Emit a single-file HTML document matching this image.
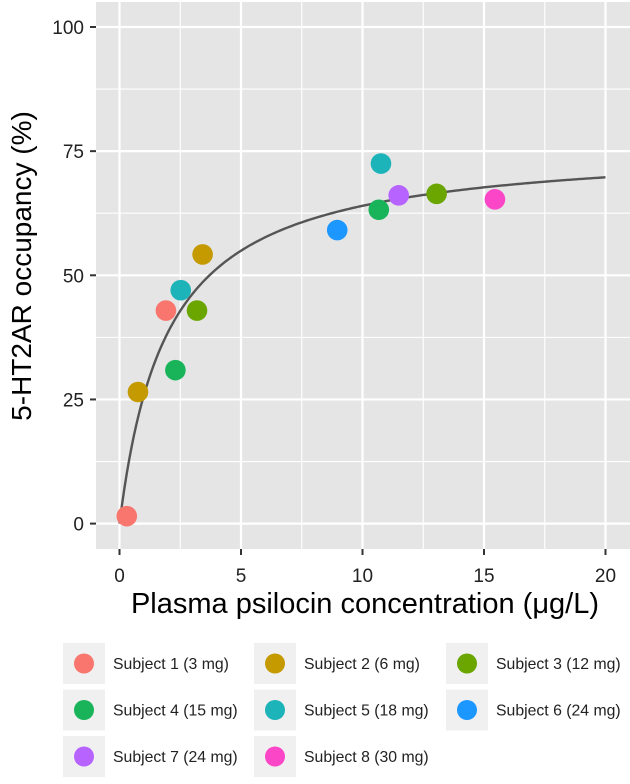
<!DOCTYPE html>
<html><head><meta charset="utf-8"><style>
body{margin:0;background:#fff;width:630px;height:779px;overflow:hidden;font-family:"Liberation Sans",sans-serif}
</style></head><body>
<svg id="chart" width="630" height="779" xmlns="http://www.w3.org/2000/svg" font-family="Liberation Sans, sans-serif">
<rect x="96" y="2" width="534" height="547" fill="#e5e5e5"/>
<g id="grid"></g><g id="axes"></g><g id="marks"></g>
<text x="365" y="613" text-anchor="middle" font-size="29" fill="#000">Plasma psilocin concentration (μg/L)</text>
<text transform="translate(31,266) rotate(-90)" text-anchor="middle" font-size="28" fill="#000">5-HT2AR occupancy (%)</text>
<g id="legend"></g>
</svg>
<script>
const subjects=["Subject 1 (3 mg)","Subject 2 (6 mg)","Subject 3 (12 mg)","Subject 4 (15 mg)","Subject 5 (18 mg)","Subject 6 (24 mg)","Subject 7 (24 mg)","Subject 8 (30 mg)"];
const colors=["#f8766d","#c49a00","#6aa500","#19b45a","#1cb3b9","#1c97ff","#b663ff","#fb46c8"];
const ptSubject=[0,0,1,1,2,2,3,3,4,4,5,6,7];
const ptConc=[0.3,1.91,0.76,3.42,3.19,13.05,2.3,10.67,2.52,10.76,8.96,11.49,15.45];
const ptOcc=[1.5,42.9,26.5,54.2,42.9,66.4,30.9,63.2,47.0,72.5,59.1,66.1,65.3];
const xTicks=[0,5,10,15,20];
const yTicks=[0,25,50,75,100];
const emax=76.6, ec50=1.97;
const NS="http://www.w3.org/2000/svg";
const sx=v=>119.5+24.3*v, sy=v=>523.6-4.966*v;
function mk(tag,attrs,parent){const e=document.createElementNS(NS,tag);for(const k in attrs)e.setAttribute(k,attrs[k]);document.getElementById(parent).appendChild(e);return e;}
const grid='grid',axes='axes';
for(let v=-2.5;v<=21;v+=2.5){const x=sx(v);if(x<96||x>630)continue;const major=Math.abs(v%5)<1e-6;
const l=mk('line',{x1:x,x2:x,y1:2,y2:549,stroke:'#fff','stroke-width':major?2.2:1.1},grid);

}
for(let v=-12.5;v<=105;v+=12.5){const y=sy(v);if(y<2||y>549)continue;const major=Math.abs(v%25)<1e-6;
const l=mk('line',{x1:96,x2:630,y1:y,y2:y,stroke:'#fff','stroke-width':major?2.2:1.1},grid);

}
xTicks.forEach(t=>{const x=sx(t);
const tk=mk('line',{x1:x,x2:x,y1:549,y2:555,stroke:'#333','stroke-width':2},axes);


const tx=mk('text',{x:x,y:582,'text-anchor':'middle','font-size':19,fill:'#222'},axes);tx.textContent=t;

});
yTicks.forEach(t=>{const y=sy(t);
const tk=mk('line',{x1:90,x2:96,y1:y,y2:y,stroke:'#333','stroke-width':2},axes);


const tx=mk('text',{x:84,y:y+7,'text-anchor':'end','font-size':19,fill:'#222'},axes);tx.textContent=t;

});
let d='';for(let i=0;i<=200;i++){const c=i*0.1;const o=emax*c/(ec50+c);d+=(i?'L':'M')+sx(c).toFixed(2)+','+sy(o).toFixed(2);}
const fit=mk('path',{d:d,fill:'none',stroke:'#555','stroke-width':2.4},'marks');


ptConc.forEach((c,i)=>{const p=mk('circle',{cx:sx(c),cy:sy(ptOcc[i]),r:10.3,fill:colors[ptSubject[i]]},'marks');

});
const colX=[63,254,446];
subjects.forEach((s,i)=>{const cx=colX[i%3],ry=643+Math.floor(i/3)*46.5;
const g=mk('g',{},'legend');


const b=document.createElementNS(NS,'rect');b.setAttribute('x',cx);b.setAttribute('y',ry);b.setAttribute('width',42);b.setAttribute('height',41);b.setAttribute('fill','#f0f0f0');g.appendChild(b);
const c=document.createElementNS(NS,'circle');c.setAttribute('cx',cx+21);c.setAttribute('cy',ry+20.5);c.setAttribute('r',10);c.setAttribute('fill',colors[i]);g.appendChild(c);
const t=document.createElementNS(NS,'text');t.setAttribute('x',cx+50);t.setAttribute('y',ry+26);t.setAttribute('font-size',15.8);t.setAttribute('fill','#222');t.textContent=s;g.appendChild(t);});
</script>
</body></html>
